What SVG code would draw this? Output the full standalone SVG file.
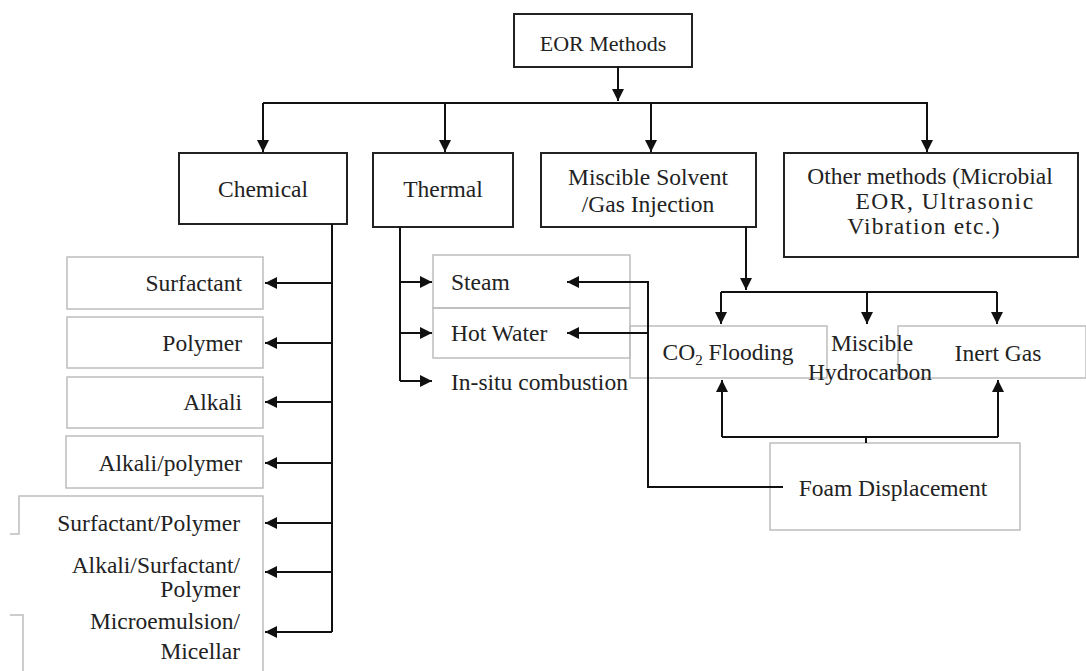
<svg xmlns="http://www.w3.org/2000/svg" width="1086" height="671" viewBox="0 0 1086 671">
<style>
.main{fill:#fff;stroke:#222;stroke-width:2}
.sub{fill:none;stroke:#bdbdbd;stroke-width:1.5}
.t{font-family:"Liberation Serif","Times New Roman",serif;font-size:23.5px;fill:#222}
.c{text-anchor:middle}
.r{text-anchor:end}
.ln{fill:none;stroke:#111;stroke-width:2}
</style>
<defs>
<marker id="ah" markerUnits="userSpaceOnUse" markerWidth="14" markerHeight="12" refX="12" refY="6" orient="auto">
<path d="M0,0 L12,6 L0,12 z" fill="#111"/>
</marker>
</defs>
<rect width="1086" height="671" fill="#fff"/>
<g id="eor"><rect class="main" x="514" y="14" width="178" height="53"/><text class="t c" x="603" y="51" style="font-size:22px">EOR Methods</text></g>
<g id="chemical"><rect class="main" x="179" y="153" width="168" height="71"/><text class="t c" x="263" y="197">Chemical</text></g>
<g id="thermal"><rect class="main" x="373" y="153" width="140" height="74"/><text class="t c" x="443" y="197">Thermal</text></g>
<g id="miscible"><rect class="main" x="541" y="153" width="215" height="74"/><text class="t c" x="648" y="185">Miscible Solvent</text><text class="t c" x="648" y="212">/Gas Injection</text></g>
<g id="other"><rect class="main" x="784" y="153" width="294" height="104"/><text class="t c" x="930" y="184">Other methods (Microbial</text><text class="t c" x="945" y="209" style="letter-spacing:1.5px">EOR, Ultrasonic</text><text class="t c" x="924" y="234" style="letter-spacing:1.2px">Vibration etc.)</text></g>
<g id="surfactant"><rect class="sub" x="67" y="257" width="196" height="52"/><text class="t r" x="242" y="291">Surfactant</text></g>
<g id="polymer"><rect class="sub" x="67" y="317" width="196" height="51"/><text class="t r" x="242" y="351">Polymer</text></g>
<g id="alkali"><rect class="sub" x="67" y="377" width="196" height="51"/><text class="t r" x="242" y="410">Alkali</text></g>
<g id="alkalipolymer"><rect class="sub" x="66" y="436" width="197" height="52"/><text class="t r" x="242" y="471">Alkali/polymer</text></g>
<g id="combined">
<path class="sub" d="M10,534 H19 V496 H263 V671 M10,615 H23 V671"/>
<text class="t r" x="240" y="531">Surfactant/Polymer</text>
<text class="t r" x="240" y="573">Alkali/Surfactant/</text>
<text class="t r" x="240" y="597">Polymer</text>
<text class="t r" x="240" y="629">Microemulsion/</text>
<text class="t r" x="240" y="659">Micellar</text>
</g>
<g id="steam"><rect class="sub" x="433" y="255" width="197" height="53"/><text class="t" x="451" y="290">Steam</text></g>
<g id="hotwater"><rect class="sub" x="433" y="308" width="197" height="50"/><text class="t" x="451" y="341">Hot Water</text></g>
<g id="insitu"><text class="t" x="451" y="390">In-situ combustion</text></g>
<g id="co2"><rect class="sub" x="630" y="326" width="197" height="52"/><text class="t c" x="728" y="360">CO<tspan font-size="15" dy="5">2</tspan><tspan dy="-5"> Flooding</tspan></text></g>
<g id="inert"><rect class="sub" x="898" y="326" width="188" height="52"/><text class="t c" x="998" y="361">Inert Gas</text></g>
<g id="hydrocarbon"><text class="t c" x="872" y="351">Miscible</text><text class="t c" x="870" y="380">Hydrocarbon</text></g>
<g id="foam"><rect class="sub" x="770" y="443" width="250" height="87"/><text class="t c" x="893" y="496">Foam Displacement</text></g>
<g id="connectors">
<path class="ln" d="M618,67 V101" marker-end="url(#ah)"/>
<path class="ln" d="M263,103 H928"/>
<path class="ln" d="M263,103 V152" marker-end="url(#ah)"/>
<path class="ln" d="M445,103 V152" marker-end="url(#ah)"/>
<path class="ln" d="M651,103 V152" marker-end="url(#ah)"/>
<path class="ln" d="M927,103 V152" marker-end="url(#ah)"/>
<path class="ln" d="M332,224 V632"/>
<path class="ln" d="M332,283 H265" marker-end="url(#ah)"/>
<path class="ln" d="M332,343 H265" marker-end="url(#ah)"/>
<path class="ln" d="M332,402 H265" marker-end="url(#ah)"/>
<path class="ln" d="M332,463 H265" marker-end="url(#ah)"/>
<path class="ln" d="M332,523 H265" marker-end="url(#ah)"/>
<path class="ln" d="M332,572 H265" marker-end="url(#ah)"/>
<path class="ln" d="M332,632 H265" marker-end="url(#ah)"/>
<path class="ln" d="M400,227 V381"/>
<path class="ln" d="M400,282 H432" marker-end="url(#ah)"/>
<path class="ln" d="M400,333 H432" marker-end="url(#ah)"/>
<path class="ln" d="M400,381 H432" marker-end="url(#ah)"/>
<path class="ln" d="M746,227 V290" marker-end="url(#ah)"/>
<path class="ln" d="M721,292 H997"/>
<path class="ln" d="M721,292 V324" marker-end="url(#ah)"/>
<path class="ln" d="M867,292 V324" marker-end="url(#ah)"/>
<path class="ln" d="M997,292 V324" marker-end="url(#ah)"/>
<path class="ln" d="M866,443 V437"/>
<path class="ln" d="M722,437 H998"/>
<path class="ln" d="M722,437 V380" marker-end="url(#ah)"/>
<path class="ln" d="M998,437 V380" marker-end="url(#ah)"/>
<path class="ln" d="M783,487 H648 V282 H567" marker-end="url(#ah)"/>
<path class="ln" d="M648,333 H567" marker-end="url(#ah)"/>
</g>
</svg>
